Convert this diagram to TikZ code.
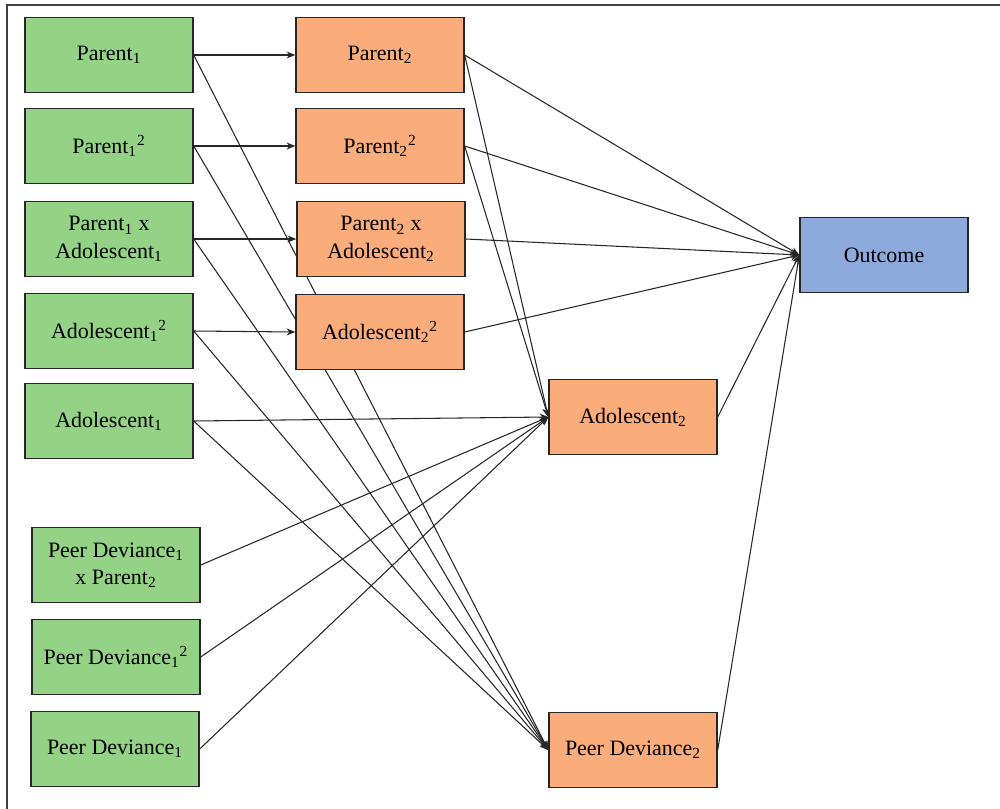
\documentclass[tikz,border=0pt]{standalone}
\usepackage{fontspec}
\setmainfont{Liberation Serif}
\newfontfamily\boxfont{Liberation Serif}
\usetikzlibrary{arrows.meta}
\usetikzlibrary{backgrounds}

\definecolor{boxgreen}{RGB}{148,210,134}
\definecolor{boxorange}{RGB}{250,172,122}
\definecolor{boxblue}{RGB}{142,170,220}

\tikzset{
  varbox/.style={rectangle,draw=black!85,line width=0.8pt,minimum width=3.36cm,minimum height=1.5cm,
                 align=center,font=\boxfont\fontsize{12.5}{15.5}\selectfont,inner sep=1pt},
  path/.style={draw=black!85,line width=0.6pt,-{Stealth[length=5pt,width=4pt]}}
}

\begin{document}
\begin{tikzpicture}[x=0.02cm,y=-0.02cm]
\useasboundingbox (0,0) rectangle (1000,808);
\begin{scope}
  \clip (0,0) rectangle (1000,808);
  \draw [draw=black!75,line width=1.2pt] (7,5) rectangle (1030,840);
\end{scope}

% time 1
\begin{scope}[every node/.style={varbox,fill=boxgreen}]
    \node (p1) at (109,55) {Parent\textsubscript{1}};
    \node (p1sq) at (109,146) {Parent\textsubscript{1}\textsuperscript{2}};
    \node (p1a1) at (109,239) {Parent\textsubscript{1} x\\Adolescent\textsubscript{1}};
    \node (a1sq) at (109,331) {Adolescent\textsubscript{1}\textsuperscript{2}};
    \node (a1) at (109,421) {Adolescent\textsubscript{1}};

    \node (pd1p2) at (116,565) {Peer Deviance\textsubscript{1}\\x Parent\textsubscript{2}};
    \node (pd1sq) at (116,657) {Peer Deviance\textsubscript{1}\textsuperscript{2}};
    \node (pd1) at (115,749) {Peer Deviance\textsubscript{1}};
\end{scope}

% time 2
\begin{scope}[every node/.style={varbox,fill=boxorange}]
    \node (p2) at (380,55) {Parent\textsubscript{2}};
    \node (p2sq) at (380,146) {Parent\textsubscript{2}\textsuperscript{2}};
    \node (p2a2) at (381,239) {Parent\textsubscript{2} x\\Adolescent\textsubscript{2}};
    \node (a2sq) at (380,332) {Adolescent\textsubscript{2}\textsuperscript{2}};

    \node (a2) at (633,417) {Adolescent\textsubscript{2}};
    \node (pd2) at (633,750) {Peer Deviance\textsubscript{2}};
\end{scope}

\node [varbox,fill=boxblue] (out) at (884,255) {Outcome};

\begin{scope}[on background layer]
     \draw [path] (p1.east) -- (p2.west);
     \draw [path] (p1sq.east) -- (p2sq.west);
     \draw [path] (p1a1.east) -- (p2a2.west);
     \draw [path] (a1sq.east) -- (a2sq.west);
     \draw [path] (a1.east) -- (a2.west);

     \draw [path] (p1.east) -- (pd2.west);
     \draw [path] (p1sq.east) -- (pd2.west);
     \draw [path] (p1a1.east) -- (pd2.west);
     \draw [path] (a1sq.east) -- (pd2.west);
     \draw [path] (a1.east) -- (pd2.west);

     \draw [path] (pd1p2.east) -- (a2.west);
     \draw [path] (pd1sq.east) -- (a2.west);
     \draw [path] (pd1.east) -- (a2.west);
     \draw [path] (p2.east) -- (a2.west);
     \draw [path] (p2sq.east) -- (a2.west);

     \draw [path] (p2.east) -- (out.west);
     \draw [path] (p2sq.east) -- (out.west);
     \draw [path] (p2a2.east) -- (out.west);
     \draw [path] (a2sq.east) -- (out.west);
     \draw [path] (a2.east) -- (out.west);
     \draw [path] (pd2.east) -- (out.west);
\end{scope}
\end{tikzpicture}
\end{document}
